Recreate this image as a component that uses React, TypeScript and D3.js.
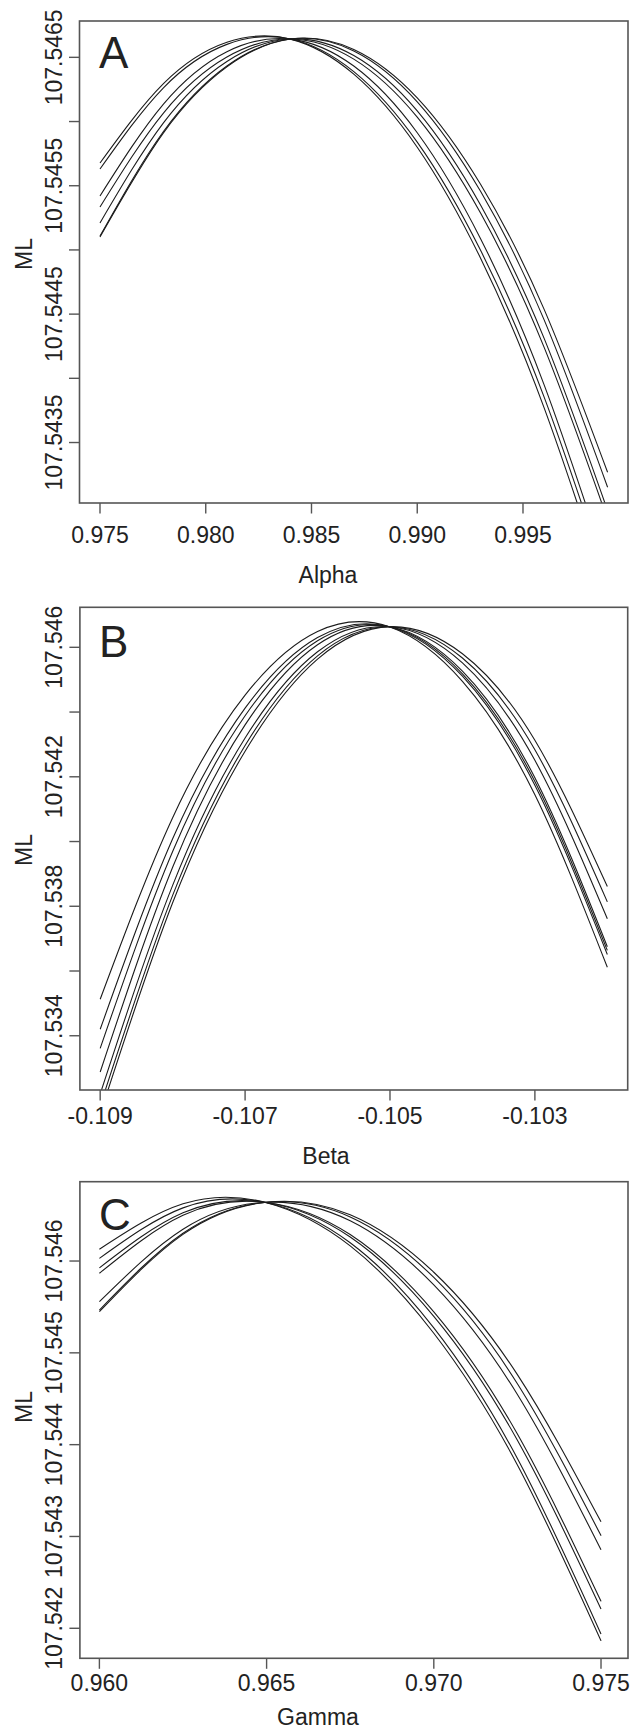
import React from 'react';
import * as d3 from 'd3';

// ---------- Panel A (Alpha) ----------
const alphaGrid = [0.975, 0.978, 0.981, 0.984, 0.987, 0.99, 0.993, 0.996, 0.999];
const alphaRuns = [
  [107.545677, 107.546295, 107.546617, 107.546642, 107.546369, 107.5458, 107.544934, 107.54377, 107.54231],
  [107.54563, 107.546263, 107.546601, 107.546643, 107.546389, 107.54584, 107.544995, 107.543854, 107.542419],
  [107.54542, 107.546136, 107.546544, 107.546642, 107.546432, 107.545913, 107.545086, 107.543949, 107.542504],
  [107.545334, 107.546066, 107.546502, 107.546643, 107.546486, 107.546034, 107.545285, 107.544241, 107.5429],
  [107.54521, 107.54599, 107.546468, 107.546643, 107.546514, 107.546083, 107.545348, 107.544311, 107.54297],
  [107.545108, 107.545922, 107.546433, 107.546643, 107.54655, 107.546154, 107.545455, 107.544455, 107.543152],
  [107.545101, 107.545912, 107.546426, 107.546643, 107.546562, 107.546185, 107.54551, 107.544537, 107.543268],
];
const alphaXTicks = [0.975, 0.98, 0.985, 0.99, 0.995];
const alphaXLabels = ['0.975', '0.980', '0.985', '0.990', '0.995'];
const alphaYTicks = [107.5435, 107.544, 107.5445, 107.545, 107.5455, 107.546, 107.5465];
const alphaYLabels = ['107.5435', '', '107.5445', '', '107.5455', '', '107.5465'];

// ---------- Panel B (Beta) ----------
const betaGrid = [-0.109, -0.108, -0.107, -0.106, -0.105, -0.104, -0.103, -0.102];
const betaRuns = [
  [107.535126, 107.540736, 107.544523, 107.546488, 107.546627, 107.544947, 107.541443, 107.536114],
  [107.534199, 107.540084, 107.544119, 107.5463, 107.54663, 107.545107, 107.541737, 107.53651],
  [107.533612, 107.539692, 107.543887, 107.546201, 107.546633, 107.545181, 107.541851, 107.536636],
  [107.53288, 107.539204, 107.543603, 107.54608, 107.546633, 107.545262, 107.541969, 107.536751],
  [107.5322, 107.538644, 107.543198, 107.545861, 107.546635, 107.545518, 107.542509, 107.537613],
  [107.531836, 107.538336, 107.542969, 107.545737, 107.546636, 107.545669, 107.542837, 107.538135],
  [107.531582, 107.538107, 107.54279, 107.545634, 107.546638, 107.545802, 107.543127, 107.53861],
];
const betaXTicks = [-0.109, -0.107, -0.105, -0.103];
const betaXLabels = ['-0.109', '-0.107', '-0.105', '-0.103'];
const betaYTicks = [107.534, 107.536, 107.538, 107.54, 107.542, 107.544, 107.546];
const betaYLabels = ['107.534', '', '107.538', '', '107.542', '', '107.546'];

// ---------- Panel C (Gamma) ----------
const gammaGrid = [0.96, 0.9625, 0.965, 0.9675, 0.97, 0.9725, 0.975];
const gammaRuns = [
  [107.546129, 107.546623, 107.546635, 107.546165, 107.545213, 107.543779, 107.541863],
  [107.546029, 107.546579, 107.546635, 107.546199, 107.545272, 107.54385, 107.541937],
  [107.545925, 107.546525, 107.546637, 107.546261, 107.545398, 107.544048, 107.542209],
  [107.545867, 107.546498, 107.546638, 107.546288, 107.545447, 107.544115, 107.542293],
  [107.545557, 107.546346, 107.54664, 107.546438, 107.54574, 107.544546, 107.542856],
  [107.545466, 107.546303, 107.546641, 107.54648, 107.545821, 107.544664, 107.543009],
  [107.545448, 107.54629, 107.546641, 107.546504, 107.545878, 107.544763, 107.543159],
];
const gammaXTicks = [0.96, 0.965, 0.97, 0.975];
const gammaXLabels = ['0.960', '0.965', '0.970', '0.975'];
const gammaYTicks = [107.542, 107.543, 107.544, 107.545, 107.546];
const gammaYLabels = ['107.542', '107.543', '107.544', '107.545', '107.546'];

const FONT = '"Liberation Sans", Arial, Helvetica, sans-serif';
const TEXT = '#222';
const AXIS = '#555';
const CURVE = '#1c1c1c';

type PanelSpec = {
  id: string;
  letter: string;
  title: string;
  grid: number[];
  runs: number[][];
  xTicks: number[];
  xLabels: string[];
  yTicks: number[];
  yLabels: string[];
  xDomain: [number, number];
  yDomain: [number, number];
  box: { left: number; right: number; top: number; bottom: number };
  xLabelBase: number;
  titleX: number;
  titleBase: number;
  mlY: number;
  letterBase: number;
};

const panels: PanelSpec[] = [
  {
    id: 'a', letter: 'A', title: 'Alpha',
    grid: alphaGrid, runs: alphaRuns,
    xTicks: alphaXTicks, xLabels: alphaXLabels, yTicks: alphaYTicks, yLabels: alphaYLabels,
    xDomain: [0.974031, 0.999965], yDomain: [107.543029, 107.546783],
    box: { left: 79.5, right: 628, top: 21, bottom: 503 },
    xLabelBase: 543, titleX: 328, titleBase: 583, mlY: 254, letterBase: 68,
  },
  {
    id: 'b', letter: 'B', title: 'Beta',
    grid: betaGrid, runs: betaRuns,
    xTicks: betaXTicks, xLabels: betaXLabels, yTicks: betaYTicks, yLabels: betaYLabels,
    xDomain: [-0.10928, -0.101719], yDomain: [107.532324, 107.547236],
    box: { left: 79.9, right: 627.7, top: 607.3, bottom: 1090 },
    xLabelBase: 1124, titleX: 326, titleBase: 1164, mlY: 850, letterBase: 656.5,
  },
  {
    id: 'c', letter: 'C', title: 'Gamma',
    grid: gammaGrid, runs: gammaRuns,
    xTicks: gammaXTicks, xLabels: gammaXLabels, yTicks: gammaYTicks, yLabels: gammaYLabels,
    xDomain: [0.959417, 0.975807], yDomain: [107.541673, 107.546864],
    box: { left: 79.9, right: 628, top: 1181.7, bottom: 1658.3 },
    xLabelBase: 1690.5, titleX: 318, titleBase: 1724.5, mlY: 1407, letterBase: 1229.5,
  },
];

function Panel({ p }: { p: PanelSpec }) {
  const { box } = p;
  const x = d3.scaleLinear().domain(p.xDomain).range([box.left, box.right]);
  const y = d3.scaleLinear().domain(p.yDomain).range([box.bottom, box.top]);
  const line = d3
    .line<number>()
    .x((_, i) => x(p.grid[i]))
    .y((d) => y(d))
    .curve(d3.curveNatural);
  const clipId = `clip-${p.id}`;
  const tick = 10.5;
  return (
    <g>
      <defs>
        <clipPath id={clipId}>
          <rect x={box.left} y={box.top} width={box.right - box.left} height={box.bottom - box.top} />
        </clipPath>
      </defs>
      <g clipPath={`url(#${clipId})`}>
        {p.runs.map((r, i) => (
          <path key={i} d={line(r) || ''} fill="none" stroke={CURVE} strokeWidth={1.1} />
        ))}
      </g>
      <rect
        x={box.left}
        y={box.top}
        width={box.right - box.left}
        height={box.bottom - box.top}
        fill="none"
        stroke={AXIS}
        strokeWidth={1.6}
      />
      {p.xTicks.map((t, i) => (
        <g key={`xt${i}`}>
          <line x1={x(t)} x2={x(t)} y1={box.bottom} y2={box.bottom + tick} stroke={AXIS} strokeWidth={1.4} />
          <text x={x(t)} y={p.xLabelBase} textAnchor="middle" fontFamily={FONT} fontSize={23} fill={TEXT}>
            {p.xLabels[i]}
          </text>
        </g>
      ))}
      {p.yTicks.map((t, i) => (
        <g key={`yt${i}`}>
          <line x1={box.left - tick} x2={box.left} y1={y(t)} y2={y(t)} stroke={AXIS} strokeWidth={1.4} />
          {p.yLabels[i] ? (
            <text
              transform={`translate(62, ${y(t)}) rotate(-90)`}
              textAnchor="middle"
              fontFamily={FONT}
              fontSize={23}
              fill={TEXT}
            >
              {p.yLabels[i]}
            </text>
          ) : null}
        </g>
      ))}
      <text
        transform={`translate(31.5, ${p.mlY}) rotate(-90)`}
        textAnchor="middle"
        fontFamily={FONT}
        fontSize={23}
        fill={TEXT}
      >
        ML
      </text>
      <text x={p.titleX} y={p.titleBase} textAnchor="middle" fontFamily={FONT} fontSize={23} fill={TEXT}>
        {p.title}
      </text>
      <text x={99} y={p.letterBase} fontFamily={FONT} fontSize={44} fill={TEXT}>
        {p.letter}
      </text>
    </g>
  );
}

export default function App() {
  return (
    <svg
      width={636}
      height={1730}
      viewBox="0 0 636 1730"
      style={{ position: 'absolute', left: 0, top: 0, background: '#fff', display: 'block' }}
    >
      <rect x={0} y={0} width={636} height={1730} fill="#fff" />
      {panels.map((p) => (
        <Panel key={p.id} p={p} />
      ))}
    </svg>
  );
}
